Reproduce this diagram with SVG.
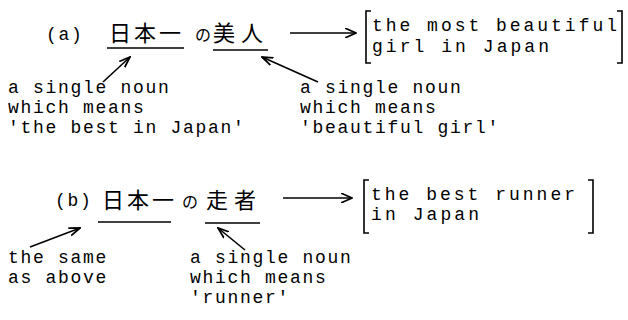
<svg xmlns="http://www.w3.org/2000/svg" width="628" height="320" viewBox="0 0 628 320">
<defs>
<style>
.t{font-family:"Liberation Mono","DejaVu Sans Mono",monospace;font-size:18px;letter-spacing:1.7px;fill:#000}
.bt{font-family:"Liberation Mono","DejaVu Sans Mono",monospace;font-size:18px;fill:#000}
.j{font-family:"Noto Sans CJK JP",sans-serif;font-size:22px;fill:#000}
.jn{font-family:"Noto Sans CJK JP",sans-serif;font-size:16px;fill:#000}
.ln{stroke:#000;stroke-width:1.6;fill:none}
.ul{stroke:#000;stroke-width:1.6;fill:none}
.br{stroke:#000;stroke-width:1.6;fill:none}
</style>
<marker id="ah" viewBox="0 0 12 10" refX="11" refY="5" markerWidth="12" markerHeight="10" markerUnits="userSpaceOnUse" orient="auto">
<path d="M0,0 L11,5 L0,10" fill="none" stroke="#000" stroke-width="1.6"/>
</marker>
<marker id="sh" viewBox="0 0 12 10" refX="11" refY="5" markerWidth="12" markerHeight="10" markerUnits="userSpaceOnUse" orient="auto">
<path d="M0,1 L11,5 L0,9" fill="none" stroke="#000" stroke-width="1.8"/>
</marker>
</defs>

<g id="a-label"><text class="t" x="46" y="40">(a)</text></g>
<g id="a-phrase1">
<text class="j" x="109" y="41" letter-spacing="3">日本一</text>
<line class="ul" x1="107" y1="48" x2="184" y2="48"/>
</g>
<g id="a-no"><text class="jn" x="195" y="41">の</text></g>
<g id="a-phrase2">
<text class="j" x="213" y="41" letter-spacing="6">美人</text>
<line class="ul" x1="213" y1="50" x2="268" y2="50"/>
</g>
<g id="a-result">
<path class="br" d="M371,11 L366,11 L366,63 L371,63"/>
<path class="br" d="M617,11 L622,11 L622,63 L617,63"/>
<text class="bt"><tspan x="372" y="31" textLength="245" lengthAdjust="spacing">the most beautiful</tspan><tspan x="372" y="52" textLength="177" lengthAdjust="spacing">girl in Japan</tspan></text>
</g>
<g id="a-note1">
<text class="t"><tspan x="8" y="93">a single noun</tspan><tspan x="8" y="113">which means</tspan><tspan x="8" y="133">'the best in Japan'</tspan></text>
</g>
<g id="a-note2">
<text class="t"><tspan x="300" y="93">a single noun</tspan><tspan x="300" y="113">which means</tspan><tspan x="300" y="133">'beautiful girl'</tspan></text>
</g>

<g id="b-label"><text class="t" x="55" y="206">(b)</text></g>
<g id="b-phrase1">
<text class="j" x="102" y="208" letter-spacing="3">日本一</text>
<line class="ul" x1="98" y1="222" x2="171" y2="222"/>
</g>
<g id="b-no"><text class="jn" x="182" y="208">の</text></g>
<g id="b-phrase2">
<text class="j" x="206" y="208" letter-spacing="6">走者</text>
<line class="ul" x1="205" y1="223" x2="260" y2="223"/>
</g>
<g id="b-result">
<path class="br" d="M369,180 L364,180 L364,233 L369,233"/>
<path class="br" d="M588,180 L593,180 L593,233 L588,233"/>
<text class="bt"><tspan x="371" y="200" textLength="204" lengthAdjust="spacing">the best runner</tspan><tspan x="371" y="220" textLength="108" lengthAdjust="spacing">in Japan</tspan></text>
</g>
<g id="b-note1">
<text class="t"><tspan x="8" y="263">the same</tspan><tspan x="8" y="283">as above</tspan></text>
</g>
<g id="b-note2">
<text class="t"><tspan x="190" y="263">a single noun</tspan><tspan x="190" y="283">which means</tspan><tspan x="190" y="303">'runner'</tspan></text>
</g>

<g id="connectors">
<line class="ln" x1="290" y1="33" x2="356" y2="33" marker-end="url(#ah)"/>
<line class="ln" x1="103" y1="82" x2="130" y2="57" marker-end="url(#sh)"/>
<line class="ln" x1="318" y1="82" x2="262" y2="57" marker-end="url(#sh)"/>
<line class="ln" x1="283" y1="198" x2="352" y2="198" marker-end="url(#ah)"/>
<line class="ln" x1="30" y1="247" x2="80" y2="228" marker-end="url(#sh)"/>
<line class="ln" x1="245" y1="250" x2="218" y2="228" marker-end="url(#sh)"/>
</g>
</svg>
